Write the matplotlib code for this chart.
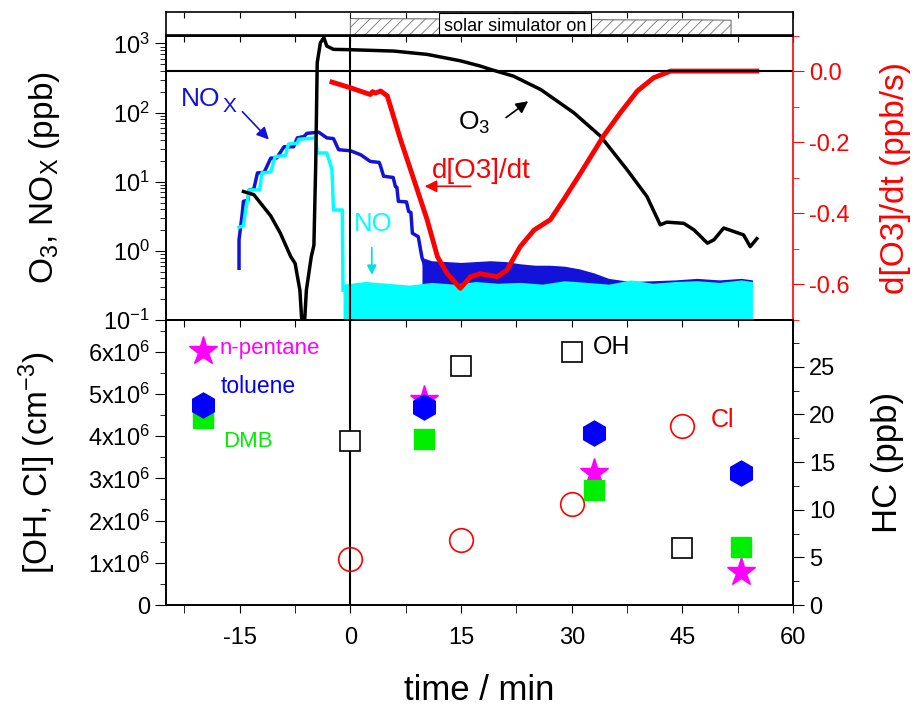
import matplotlib
matplotlib.use("Agg")
import matplotlib.pyplot as plt
from matplotlib.ticker import MultipleLocator, FuncFormatter, LogLocator, NullFormatter

plt.rcParams['font.family'] = ['Liberation Sans', 'DejaVu Sans']
plt.rcParams['mathtext.fontset'] = 'custom'
plt.rcParams['mathtext.rm'] = 'Liberation Sans'
plt.rcParams['mathtext.it'] = 'Liberation Sans:italic'
plt.rcParams['mathtext.bf'] = 'Liberation Sans:bold'
plt.rcParams['axes.unicode_minus'] = False
plt.rcParams['hatch.linewidth'] = 0.6
plt.rcParams['axes.linewidth'] = 1.2

# ---- data (time in min) ----
# solar simulator light level (strip on top, arbitrary units)
light_t = [0, 10, 20, 30, 40, 46, 51.6]
light_lvl = [0.72, 0.71, 0.69, 0.68, 0.66, 0.67, 0.65]

# O3 (ppb)
o3_t = [-14.5, -13.1, -10.8, -9.5, -8.1, -7.5, -6.85, -6.6, -6.2, -5.97, -5.3, -4.95,
        -4.7, -4.5, -4.07, -3.6, -3.2, -2.3, 0, 5.9, 10.4, 14.9, 17.6, 19.0, 22.1,
        25.8, 30.3, 33.9, 37.5, 40.2, 42.0, 42.9, 45.2, 46.6, 48.4, 49.3, 50.6,
        52.0, 53.3, 54.2, 55.1]
o3_ppb = [7.2, 6.5, 3.2, 1.8, 0.83, 0.66, 0.27, 0.1, 0.1, 0.27, 0.83, 1.2,
          18.6, 525, 1020, 1210, 915, 820, 810, 774, 693, 560, 470, 420, 336,
          215, 99, 45.6, 14.9, 6.1, 2.38, 2.6, 2.5, 2.0, 1.29, 1.45, 2.14,
          1.9, 1.7, 1.15, 1.5]

# NOx (ppb), step-like part
nox_t = [-15.1, -15.1, -14.7, -14.5, -13.9, -13.7, -13.1, -12.6, -11.7, -10.8, -10.0,
         -9.0, -7.7, -7.2, -6.3, -5.9, -4.3, -3.2, -2.3, -1.6, 0.0, 1.4, 2.7, 3.9,
         4.1, 4.5, 5.8, 6.1, 6.3, 6.5, 7.6, 7.9, 8.2, 8.4, 9.2, 9.7, 10.0]
nox_ppb = [0.56, 1.45, 3.2, 5.2, 5.4, 7.6, 7.8, 13.4, 13.6, 21.9, 22,
           32, 32, 43, 45, 50, 52, 43, 42, 29, 28, 24.5, 19.6, 19,
           16.6, 12, 11.5, 8.5, 8.3, 5.2, 5.1, 3.7, 3.6, 1.8, 1.6, 0.8, 0.65]
# NOx noisy part (band envelope)
nox_noise_t = [9.7, 11, 13, 15, 17, 19, 21, 23, 25, 27, 29, 31, 33, 35, 38, 41, 44, 47, 50, 53, 54.5]
nox_noise_hi = [0.8, 0.72, 0.7, 0.68, 0.7, 0.72, 0.7, 0.65, 0.62, 0.62, 0.6, 0.55, 0.48,
                0.4, 0.36, 0.37, 0.38, 0.4, 0.38, 0.4, 0.38]
nox_noise_lo = [0.3, 0.3, 0.3, 0.3, 0.3, 0.3, 0.3, 0.3, 0.3, 0.3, 0.3, 0.3, 0.3,
                0.3, 0.3, 0.3, 0.3, 0.3, 0.3, 0.3, 0.3]

# NO (ppb)
no_t = [-15.1, -14.5, -14.2, -13.7, -12.3, -12.0, -10.8, -10.2, -8.8, -8.4, -7.2, -7.0,
        -4.7, -4.5, -3.2, -2.5, -2.3, -1.1, -1.0]
no_ppb = [2.2, 2.3, 3.9, 7.6, 7.6, 13.4, 13.8, 23, 24, 35, 36, 41,
          43, 26, 26, 15, 3.9, 3.9, 0.27]
no_noise_t = [-1.0, 2, 5, 8, 11, 14, 17, 20, 23, 26, 29, 32, 35, 38, 41, 44, 47, 50, 53, 54.5]
no_noise_hi = [0.33, 0.36, 0.34, 0.32, 0.35, 0.33, 0.36, 0.34, 0.35, 0.33, 0.37, 0.35,
               0.33, 0.38, 0.34, 0.36, 0.37, 0.35, 0.38, 0.36]

# d[O3]/dt (ppb/s)
dO3_t = [-2.5, 0, 2.7, 3.0, 3.4, 4.1, 5.0, 6.8, 8.6, 10.4, 11.8, 13.1, 14.9, 16.3,
         17.6, 19.9, 21.2, 23.0, 24.9, 27.1, 28.9, 31.2, 34.3, 36.6, 38.9, 41.1, 43.4, 55.1]
dO3_val = [-0.031, -0.047, -0.066, -0.058, -0.062, -0.056, -0.07, -0.193, -0.305, -0.418,
           -0.522, -0.569, -0.611, -0.578, -0.57, -0.578, -0.56, -0.494, -0.447, -0.418,
           -0.362, -0.287, -0.183, -0.117, -0.056, -0.019, 0.0, 0.0]

# radicals (cm^-3)
oh_t = [0, 15, 30, 45]
oh_conc = [3.89e6, 5.67e6, 5.99e6, 1.36e6]
cl_t = [0, 15, 30, 45]
cl_conc = [1.08e6, 1.54e6, 2.39e6, 4.24e6]

# hydrocarbons (ppb)
hc_t = [-20, 10, 33, 53]
toluene = [21.0, 20.8, 18.0, 13.8]
dmb = [19.6, 17.4, 12.1, 6.1]
pentane = [26.6, 21.5, 13.8, 3.5]

# ---- figure ----
W, H = 924, 713
fig = plt.figure(figsize=(W / 100, H / 100), dpi=100)


def box(x0, y0, x1, y1):
    return [x0 / W, 1 - y1 / H, (x1 - x0) / W, (y1 - y0) / H]


ax_s = fig.add_axes(box(166, 12, 793, 35.5))
ax_t = fig.add_axes(box(166, 35.5, 793, 320))
ax_b = fig.add_axes(box(166, 320, 793, 605))

xlim = (-25, 60)
tick_fs = 17
lab_fs = 24

# strip: solar simulator
ax_s.fill_between(light_t, 0, light_lvl, facecolor='white', edgecolor='0.45',
                  hatch='///', linewidth=0.8)
ax_s.text(22.3, 0.4, 'solar simulator on', ha='center', va='center', fontsize=13,
          bbox=dict(boxstyle='square,pad=0.25', fc='white', ec='black', lw=0.8))
ax_s.set_xlim(*xlim)
ax_s.set_ylim(0, 1)
ax_s.set_yticks([])
ax_s.xaxis.set_major_locator(MultipleLocator(7.5))
ax_s.tick_params(axis='x', direction='in', top=True, bottom=False,
                 labelbottom=False, length=4)

# top panel
ax_t.set_yscale('log')
ax_t.fill_between(nox_noise_t, nox_noise_lo, nox_noise_hi, color='#1212d8', lw=0)
ax_t.plot(nox_t, nox_ppb, color='#1212d8', lw=2.5)
ax_t.fill_between(no_noise_t, 0.1, no_noise_hi, color='#00ffff', lw=0)
ax_t.plot(no_t, no_ppb, color='#00ffff', lw=2.5)
ax_t.plot(o3_t, o3_ppb, color='black', lw=2.5)
ax_t.axvline(0, color='black', lw=1.5)
ax_t.set_xlim(*xlim)
ax_t.set_ylim(0.1, 1300)
ax_t.xaxis.set_major_locator(MultipleLocator(15))
ax_t.xaxis.set_minor_locator(MultipleLocator(7.5))
ax_t.tick_params(axis='x', which='both', direction='out', bottom=True, top=False,
                 labelbottom=False, length=6)
ax_t.yaxis.set_major_locator(LogLocator(base=10, numticks=10))
ax_t.yaxis.set_minor_locator(LogLocator(base=10, subs=range(2, 10), numticks=10))
ax_t.yaxis.set_minor_formatter(NullFormatter())
ax_t.tick_params(axis='y', which='major', direction='out', length=8, labelsize=tick_fs,
                 right=False)
ax_t.tick_params(axis='y', which='minor', direction='out', length=4, right=False)
ax_t.spines['right'].set_visible(False)
ax_t.set_ylabel('O$_3$, NO$_\\mathrm{X}$ (ppb)', fontsize=lab_fs, labelpad=30)
sec_t = ax_t.secondary_xaxis('top')
sec_t.xaxis.set_major_locator(MultipleLocator(7.5))
sec_t.tick_params(direction='in', length=5, labeltop=False)

ax_r = ax_t.twinx()
ax_r.plot(dO3_t, dO3_val, color='red', lw=3.5)
ax_r.axhline(0, color='black', lw=1.5)
ax_r.set_ylim(-0.7, 0.1)
ax_r.yaxis.set_major_locator(MultipleLocator(0.2))
ax_r.yaxis.set_minor_locator(MultipleLocator(0.1))
ax_r.yaxis.set_major_formatter(FuncFormatter(lambda v, p: f'{v:.1f}'.replace('-0.0', '0.0')))
ax_r.tick_params(axis='y', which='major', direction='out', length=8, colors='red',
                 labelsize=tick_fs)
ax_r.tick_params(axis='y', which='minor', direction='out', length=4, colors='red')
ax_r.spines['right'].set_color('red')
ax_r.set_ylabel('d[O3]/dt (ppb/s)', fontsize=lab_fs, color='red', labelpad=22)

# annotations top
ax_t.annotate('', xy=(-10.8, 38), xytext=(-14.9, 110),
              arrowprops=dict(arrowstyle='-|>', color='#1212d8', lw=1.2, mutation_scale=18))
ax_t.text(-23.05, 123, 'NO', color='#1212d8', fontsize=19, va='baseline')
ax_t.text(-17.3, 165, 'X', color='#1212d8', fontsize=15, va='top')
ax_t.annotate('', xy=(24.4, 154), xytext=(20.8, 80),
              arrowprops=dict(arrowstyle='-|>', color='black', lw=1.2, mutation_scale=18))
ax_t.text(14.6, 56.8, 'O$_3$', color='black', fontsize=19, va='baseline')
ax_t.annotate('', xy=(2.9, 0.41), xytext=(2.9, 1.22),
              arrowprops=dict(arrowstyle='-|>', color='#00e0e0', lw=1.2, mutation_scale=14))
ax_t.text(0.45, 1.91, 'NO', color='#00ffff', fontsize=18.5, va='baseline')
ax_r.annotate('', xy=(9.7, -0.324), xytext=(16.7, -0.324),
              arrowprops=dict(arrowstyle='-|>', color='red', lw=1.2, mutation_scale=18))
ax_r.text(11.1, -0.30, 'd[O3]/dt', color='red', fontsize=20, va='baseline')

# bottom panel
ax_b.plot(oh_t, oh_conc, 's', mfc='white', mec='black', ms=14, mew=1.2, ls='none', zorder=3)
ax_b.plot(cl_t, cl_conc, 'o', mfc='none', mec='red', ms=17, mew=1.2, ls='none', zorder=3)
ax_b.axvline(0, color='black', lw=1.5, zorder=2)
ax_b.set_xlim(*xlim)
ax_b.set_ylim(0, 6.75e6)
ax_b.xaxis.set_major_locator(MultipleLocator(15))
ax_b.xaxis.set_minor_locator(MultipleLocator(7.5))
ax_b.tick_params(axis='x', which='both', direction='out', length=6, labelsize=tick_fs, pad=10)
ax_b.yaxis.set_major_locator(MultipleLocator(1e6))
ax_b.yaxis.set_minor_locator(MultipleLocator(0.5e6))
ax_b.yaxis.set_major_formatter(FuncFormatter(
    lambda v, p: '0' if v == 0 else f'{v / 1e6:.0f}x10$^6$'))
ax_b.tick_params(axis='y', which='major', direction='out', length=8, labelsize=tick_fs,
                 right=False)
ax_b.tick_params(axis='y', which='minor', direction='out', length=4, right=False)
ax_b.set_xlabel('time / min', fontsize=lab_fs + 1, labelpad=18)
ax_b.set_ylabel('[OH, Cl] (cm$^{-3}$)', fontsize=lab_fs, labelpad=22)
sec_b = ax_b.secondary_xaxis('top')
sec_b.xaxis.set_major_locator(MultipleLocator(7.5))
sec_b.tick_params(direction='in', length=5, labeltop=False)
ax_b.text(32.9, 6.11e6, 'OH', color='black', fontsize=18, va='center')
ax_b.text(48.9, 4.38e6, 'Cl', color='red', fontsize=18, va='center')

ax_h = ax_b.twinx()
ax_h.plot(hc_t, pentane, '*', color='#ff00ff', ms=21, ls='none')
ax_h.plot(hc_t, dmb, 's', color='#00ee00', ms=14, ls='none')
ax_h.plot(hc_t, toluene, 'h', color='#0000ff', ms=18, ls='none')
ax_h.set_ylim(0, 29.9)
ax_h.yaxis.set_major_locator(MultipleLocator(5))
ax_h.yaxis.set_minor_locator(MultipleLocator(2.5))
ax_h.tick_params(axis='y', which='major', direction='out', length=8, labelsize=tick_fs)
ax_h.tick_params(axis='y', which='minor', direction='out', length=4)
ax_h.set_ylabel('HC (ppb)', fontsize=lab_fs + 1, labelpad=26)
ax_h.text(-17.8, 26.9, 'n-pentane', color='#ff00ff', fontsize=16, va='center')
ax_h.text(-17.6, 22.9, 'toluene', color='#0000ff', fontsize=16.5, va='center')
ax_h.text(-17.2, 17.2, 'DMB', color='#00ee00', fontsize=16, va='center')

fig.savefig('out.png', dpi=100)
